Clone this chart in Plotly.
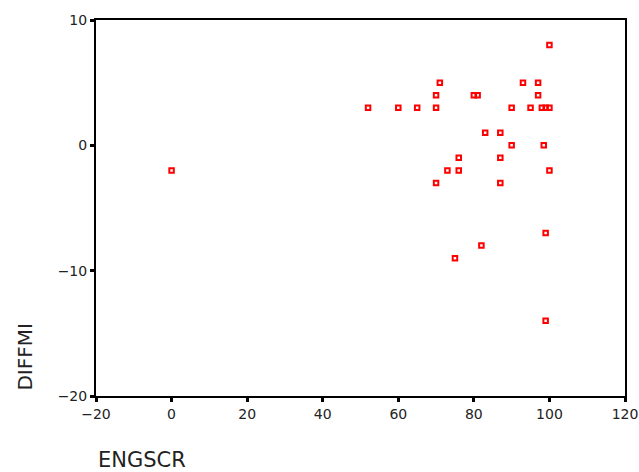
import plotly.graph_objects as go

# ENGSCR (x) and DIFFMI (y) values
engscr = [0, 52, 60, 65, 70, 70, 71, 70, 73, 76, 76, 75,
          80, 81, 83, 87, 90, 98.5, 87, 100, 87, 99, 82, 99,
          100, 93, 97, 97, 90, 95, 98, 99, 100]
diffmi = [-2, 3, 3, 3, 3, 4, 5, -3, -2, -1, -2, -9,
          4, 4, 1, 1, 0, 0, -1, -2, -3, -7, -8, -14,
          8, 5, 5, 4, 3, 3, 3, 3, 3]
x_ticks = [-20, 0, 20, 40, 60, 80, 100, 120]
y_ticks = [-20, -10, 0, 10]

FONT = "DejaVu Sans"

fig = go.Figure(go.Scatter(
    x=engscr, y=diffmi, mode="markers",
    marker=dict(symbol="square-open", size=4.5, color="#ff0000",
                line=dict(width=2, color="#ff0000")),
    hoverinfo="x+y"))

axis_common = dict(showgrid=False, zeroline=False, showline=True, linecolor="black",
                   linewidth=2, mirror=True, ticks="outside", ticklen=4, tickwidth=3,
                   tickcolor="black", automargin=False,
                   tickfont=dict(family=FONT, size=14, color="#222"))

fig.update_xaxes(range=[-20, 120], tickvals=x_ticks,
                 ticktext=[str(v).replace("-", "\u2212") for v in x_ticks], **axis_common)
fig.update_yaxes(range=[-20, 10], tickvals=y_ticks,
                 ticktext=[str(v).replace("-", "\u2212") for v in y_ticks], **axis_common)

fig.add_annotation(text="ENGSCR", xref="paper", yref="paper", x=0, y=-0.17,
                   xanchor="left", yanchor="middle", showarrow=False,
                   font=dict(family=FONT, size=21, color="#222"))
fig.add_annotation(text="DIFFMI", xref="paper", yref="paper", x=-0.134, y=0.008,
                   xanchor="center", yanchor="bottom", textangle=-90, showarrow=False,
                   font=dict(family=FONT, size=20, color="#222"))

fig.update_layout(width=639, height=472, margin=dict(l=96, r=14, t=20, b=76),
                  plot_bgcolor="white", paper_bgcolor="white", showlegend=False)

# remove the page's default body margin so the figure fills the window exactly
fig.write_html("out.html", config={"displayModeBar": False},
               post_script="document.body.style.margin='0px';document.body.style.overflow='hidden';")
